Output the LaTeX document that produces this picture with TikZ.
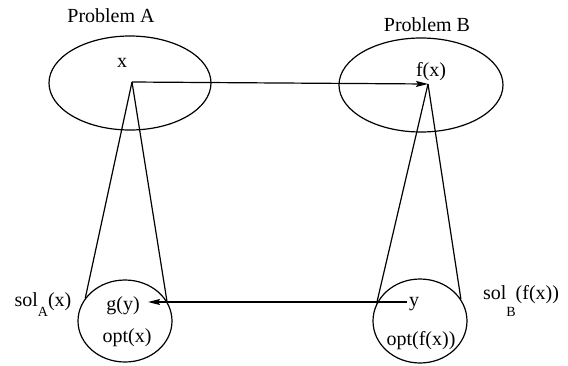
\documentclass[tikz,border=0pt]{standalone}
\usepackage{fontspec}
\setmainfont{Liberation Serif}
\usetikzlibrary{arrows.meta, shapes.geometric}

\begin{document}
\begin{tikzpicture}[x=0.5pt, y=-0.5pt,
    setbox/.style={draw, ellipse, line width=0.6pt, inner sep=0pt},
    lbl/.style={inner sep=1pt, text height=7pt, text depth=2.2pt, font=\fontsize{10}{12}\selectfont},
    cone/.style={line width=0.6pt},
    arrow/.style={line width=0.6pt, -{Stealth[length=6pt, width=3pt, inset=1pt]}}
]
    \useasboundingbox (0,0) rectangle (568,365);

    \node[setbox, minimum width=81pt, minimum height=47pt] (probA) at (130,83) {};
    \node[setbox, minimum width=82pt, minimum height=47pt] (probB) at (421,85) {};
    \node[setbox, minimum width=47pt, minimum height=41pt] (solA) at (125,321) {};
    \node[setbox, minimum width=47pt, minimum height=42pt] (solB) at (420,321) {};

    \coordinate (apexA) at (132,82);
    \coordinate (apexB) at (428,84);

    \node[lbl] (titA) at (111,18) {Problem A};
    \node[lbl] (titB) at (427,27) {Problem B};
    \node[lbl] (x) at (122,63) {x};
    \node[lbl] (fx) at (431,72) {f(x)};
    \node[lbl] (gy) at (123,306) {g(y)};
    \node[lbl] (y) at (414,302) {y};
    \node[lbl] (optA) at (127,338) {opt(x)};
    \node[lbl] (optB) at (421,341) {opt(f(x))};
    \node[lbl] (nameA) at (43,302) {sol\raisebox{-5pt}{\scriptsize A}(x)};
    \node[lbl] (nameB) at (521,295) {sol\raisebox{-8.5pt}{\scriptsize B}(f(x))};

    \draw[cone] (apexA) -- (solA.150);
    \draw[cone] (apexA) -- (solA.25);
    \draw[cone] (apexB) -- (solB.158);
    \draw[cone] (apexB) -- (solB.28);

    \draw[arrow] (apexA) -- (apexB);
    \draw[arrow, shorten >=3pt] (y.west) -- (gy.east |- y.west);
\end{tikzpicture}
\end{document}
